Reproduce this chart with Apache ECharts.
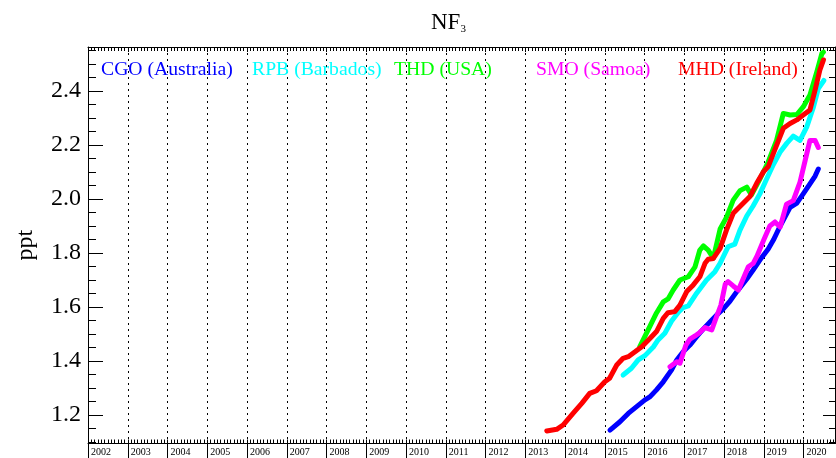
<!DOCTYPE html>
<html>
<head>
<meta charset="utf-8">
<script src="https://cdn.jsdelivr.net/npm/echarts@6/dist/echarts.min.js"></script>
<style>
  html, body { margin: 0; padding: 0; background: #fff; }
  #chart { width: 836px; height: 458px; }
</style>
</head>
<body>
<div id="chart"></div>
<script>
// station monthly means (decimal year, ppt)
const cgoYear = [2015.13, 2015.38, 2015.59, 2015.80, 2016.01, 2016.14, 2016.30, 2016.47, 2016.68, 2016.81, 2016.97, 2017.14, 2017.31, 2017.48, 2017.64, 2017.81, 2017.98, 2018.15, 2018.32, 2018.57, 2018.73, 2018.90, 2019.11, 2019.24, 2019.41, 2019.66, 2019.83, 2019.99, 2020.16, 2020.29, 2020.37]
const cgoPpt = [1.144, 1.175, 1.206, 1.231, 1.256, 1.268, 1.293, 1.323, 1.367, 1.404, 1.434, 1.459, 1.490, 1.519, 1.544, 1.570, 1.593, 1.622, 1.657, 1.704, 1.737, 1.774, 1.815, 1.848, 1.900, 1.969, 1.985, 2.019, 2.056, 2.085, 2.111]

const rpbYear = [2015.46, 2015.67, 2015.84, 2016.01, 2016.22, 2016.34, 2016.51, 2016.68, 2016.85, 2016.97, 2017.10, 2017.31, 2017.56, 2017.77, 2017.90, 2018.10, 2018.27, 2018.40, 2018.57, 2018.73, 2018.90, 2019.07, 2019.24, 2019.41, 2019.58, 2019.74, 2019.91, 2020.08, 2020.24, 2020.37, 2020.51]
const rpbPpt = [1.348, 1.373, 1.404, 1.420, 1.452, 1.478, 1.503, 1.548, 1.581, 1.598, 1.604, 1.651, 1.700, 1.731, 1.762, 1.823, 1.833, 1.885, 1.937, 1.974, 2.019, 2.074, 2.128, 2.174, 2.207, 2.233, 2.217, 2.267, 2.337, 2.409, 2.439]

const thdYear = [2015.88, 2016.13, 2016.30, 2016.47, 2016.59, 2016.72, 2016.89, 2017.10, 2017.27, 2017.39, 2017.48, 2017.60, 2017.73, 2017.90, 2018.06, 2018.23, 2018.40, 2018.57, 2018.69, 2018.90, 2019.11, 2019.32, 2019.49, 2019.66, 2019.83, 2019.99, 2020.16, 2020.33, 2020.46, 2020.50]
const thdPpt = [1.453, 1.527, 1.578, 1.619, 1.630, 1.663, 1.700, 1.712, 1.749, 1.811, 1.826, 1.811, 1.781, 1.889, 1.932, 1.996, 2.031, 2.044, 2.015, 2.074, 2.137, 2.217, 2.317, 2.311, 2.313, 2.341, 2.385, 2.470, 2.539, 2.544]

const smoYear = [2016.64, 2016.81, 2016.89, 2017.04, 2017.14, 2017.27, 2017.39, 2017.52, 2017.69, 2017.81, 2017.92, 2018.03, 2018.10, 2018.23, 2018.36, 2018.50, 2018.61, 2018.73, 2018.83, 2018.99, 2019.15, 2019.28, 2019.41, 2019.57, 2019.74, 2019.91, 2020.04, 2020.16, 2020.29, 2020.37]
const smoPpt = [1.379, 1.397, 1.392, 1.459, 1.481, 1.493, 1.506, 1.524, 1.515, 1.564, 1.607, 1.685, 1.694, 1.678, 1.663, 1.711, 1.749, 1.761, 1.789, 1.846, 1.900, 1.915, 1.896, 1.981, 1.994, 2.063, 2.143, 2.217, 2.217, 2.191]

const mhdYear = [2013.54, 2013.79, 2013.95, 2014.20, 2014.42, 2014.62, 2014.79, 2015.00, 2015.12, 2015.30, 2015.46, 2015.59, 2015.76, 2015.93, 2016.14, 2016.30, 2016.47, 2016.59, 2016.76, 2016.89, 2017.06, 2017.22, 2017.39, 2017.52, 2017.60, 2017.73, 2017.90, 2018.06, 2018.23, 2018.48, 2018.65, 2018.82, 2018.99, 2019.11, 2019.24, 2019.49, 2019.66, 2019.83, 2019.99, 2020.16, 2020.29, 2020.41, 2020.50]
const mhdPpt = [1.141, 1.147, 1.163, 1.206, 1.243, 1.280, 1.290, 1.323, 1.336, 1.385, 1.410, 1.416, 1.434, 1.453, 1.484, 1.509, 1.558, 1.579, 1.583, 1.607, 1.657, 1.681, 1.712, 1.762, 1.777, 1.780, 1.817, 1.885, 1.947, 1.984, 2.009, 2.058, 2.101, 2.120, 2.169, 2.262, 2.280, 2.293, 2.311, 2.330, 2.404, 2.478, 2.515]

const stations = ['CGO (Australia)', 'RPB (Barbados)', 'THD (USA)', 'SMO (Samoa)', 'MHD (Ireland)']
const stationColors = ['#0000ff', '#00ffff', '#00ff00', '#ff00ff', '#ff0000']
const legendLeft = [95, 246, 388, 530, 672]

const yearTicks = [2002, 2003, 2004, 2005, 2006, 2007, 2008, 2009, 2010, 2011, 2012, 2013, 2014, 2015, 2016, 2017, 2018, 2019, 2020]
const yTickLabels = [1.2, 1.4, 1.6, 1.8, 2.0, 2.2, 2.4]
const yMinorTicks = [1.1, 1.15, 1.25, 1.3, 1.35, 1.45, 1.5, 1.55, 1.65, 1.7, 1.75, 1.85, 1.9, 1.95, 2.05, 2.1, 2.15, 2.25, 2.3, 2.35, 2.45, 2.5, 2.55]

const X_MIN = 2002, X_MAX = 2020.79
const Y_MIN = 1.0945, Y_MAX = 2.563
const serif = '"Liberation Serif", "Times New Roman", serif'

const zip = (xs, ys) => xs.map((x, i) => [x, ys[i]])
const seriesData = [zip(cgoYear, cgoPpt), zip(rpbYear, rpbPpt), zip(thdYear, thdPpt), zip(smoYear, smoPpt), zip(mhdYear, mhdPpt)]

const chart = echarts.init(document.getElementById('chart'))

const xBase = {type: 'value', min: X_MIN, max: X_MAX, interval: 1}
const yBase = {type: 'value', min: Y_MIN, max: Y_MAX}
const black = {color: '#000', width: 1}

let opt = {
    animation: false,
    title: {
        text: 'NF{s|3}',
        left: 426,
        top: 6,
        textStyle: {
            fontFamily: serif,
            fontSize: 23,
            fontWeight: 'normal',
            color: '#000',
            rich: {
                s: {fontFamily: serif, fontSize: 11, verticalAlign: 'bottom', padding: [13, 0, 0, 0], color: '#000'}
            }
        }
    },
    legend: stations.map((name, i) => ({
        data: [name],
        left: legendLeft[i],
        top: 60,
        padding: 0,
        itemWidth: 0,
        itemHeight: 0,
        selectedMode: false,
        textStyle: {fontFamily: serif, fontSize: 19.7, color: stationColors[i]}
    })),
    grid: {left: 88, right: 1, top: 47, bottom: 14.5},
    xAxis: [
        {
            ...xBase,
            position: 'bottom',
            axisLine: {lineStyle: black},
            axisTick: {inside: false, length: 15, customValues: yearTicks, lineStyle: black},
            axisLabel: {
                customValues: yearTicks,
                align: 'left',
                margin: 4,
                padding: [0, 0, 0, 3],
                fontFamily: serif,
                fontSize: 10,
                color: '#000',
                formatter: (v) => String(Math.round(v))
            },
            splitLine: {show: true, lineStyle: {color: '#000', width: 1, type: [2, 4]}}
        },
        {
            ...xBase,
            position: 'bottom',
            axisLine: {show: false},
            axisTick: {inside: true, length: 4, lineStyle: black},
            minorTick: {show: true, splitNumber: 12, length: 4, lineStyle: black},
            axisLabel: {show: false},
            splitLine: {show: false}
        },
        {
            ...xBase,
            position: 'top',
            axisLine: {lineStyle: black},
            axisTick: {inside: true, length: 5, lineStyle: black},
            minorTick: {show: true, splitNumber: 12, length: 4, lineStyle: black},
            axisLabel: {show: false},
            splitLine: {show: false}
        }
    ],
    yAxis: [
        {
            ...yBase,
            position: 'left',
            name: 'ppt',
            nameLocation: 'middle',
            nameGap: 50,
            nameTextStyle: {fontFamily: serif, fontSize: 24, color: '#000'},
            axisLine: {lineStyle: black},
            axisTick: {inside: true, length: 15, customValues: yTickLabels, lineStyle: black},
            axisLabel: {
                customValues: yTickLabels,
                margin: 7,
                fontFamily: serif,
                fontSize: 24,
                color: '#000',
                formatter: (v) => v.toFixed(1)
            },
            splitLine: {show: false}
        },
        {
            ...yBase,
            position: 'left',
            axisLine: {show: false},
            axisTick: {inside: true, length: 8, customValues: yMinorTicks, lineStyle: black},
            axisLabel: {show: false},
            splitLine: {show: false}
        },
        {
            ...yBase,
            position: 'right',
            axisLine: {lineStyle: black},
            axisTick: {inside: true, length: 12, customValues: yTickLabels, lineStyle: black},
            axisLabel: {show: false},
            splitLine: {show: false}
        },
        {
            ...yBase,
            position: 'right',
            axisLine: {show: false},
            axisTick: {inside: true, length: 6, customValues: yMinorTicks, lineStyle: black},
            axisLabel: {show: false},
            splitLine: {show: false}
        }
    ],
    series: stations.map((name, i) => ({
        name: name,
        type: 'line',
        xAxisIndex: 0,
        yAxisIndex: 0,
        data: seriesData[i],
        showSymbol: false,
        symbol: 'none',
        lineStyle: {color: stationColors[i], width: 5, join: 'round', cap: 'round'},
        itemStyle: {color: stationColors[i]},
        z: 2 + i
    }))
}

chart.setOption(opt)
</script>
</body>
</html>
